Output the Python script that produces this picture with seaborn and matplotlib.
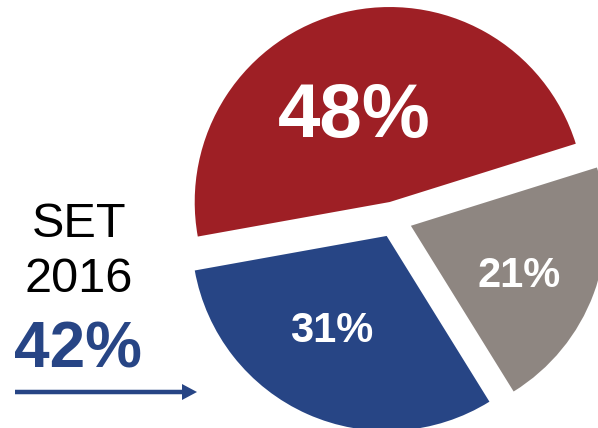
import matplotlib
matplotlib.use("Agg")
import matplotlib.pyplot as plt
import seaborn as sns

# slice data (order: counterclockwise from the upper-right edge)
segments = ["Red", "Blue", "Gray"]
shares = [48, 31, 21]
seg_colors = ["#9E1F25", "#274585", "#8E8681"]

side_title = ["SET", "2016"]
side_value = 42

sns.set_style("white")
plt.rcParams['font.family'] = ['Liberation Sans', 'DejaVu Sans']

fig = plt.figure(figsize=(5.98, 4.28), dpi=100)
ax = fig.add_axes([0, 0, 1, 1])

# explode in matplotlib is in data units here (pixels)
palette = sns.color_palette(seg_colors)
ax.pie(shares, colors=palette, startangle=17.4, counterclock=True,
       explode=[18] * len(shares), radius=195, center=(394, 208.5),
       frame=True, wedgeprops=dict(linewidth=0))

ax.set_xlim(0, 598)
ax.set_ylim(0, 428)
ax.set_aspect("equal")
ax.axis("off")

# percentage labels inside slices
label_pos = {"Red": (354, 291, 55), "Blue": (332, 86, 30), "Gray": (519, 141, 30)}
for name, val in zip(segments, shares):
    x, y, fs = label_pos[name]
    ax.text(x, y, f"{val}%", color="white", fontsize=fs, fontweight="bold",
            ha="center", va="baseline")

# side annotation
ax.text(79, 191, side_title[0], fontsize=35, ha="center", va="baseline", color="black")
ax.text(78.5, 136, side_title[1], fontsize=35, ha="center", va="baseline", color="black")
ax.text(77.5, 60, f"{side_value}%", fontsize=46, fontweight="bold",
        ha="center", va="baseline", color=seg_colors[1])

ax.arrow(15, 36, 167, 0, width=4.5, head_width=16, head_length=15,
         color=seg_colors[1], length_includes_head=False, linewidth=0)

fig.savefig("out.png", dpi=100)
